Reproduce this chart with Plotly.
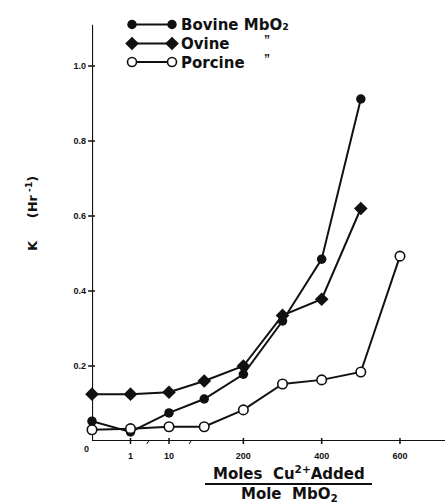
import numpy as np
import plotly.graph_objects as go

# Cu2+ added (moles per mole MbO2) and first-order rate constants K (hr^-1)
cu_added = [0, 1, 10, 100, 200, 300, 400, 500]
k_bovine = [0.053, 0.024, 0.075, 0.112, 0.178, 0.320, 0.485, 0.912]
k_ovine = [0.125, 0.125, 0.130, 0.160, 0.200, 0.335, 0.378, 0.620]

cu_added_porcine = [0, 1, 10, 100, 200, 300, 400, 500, 600]
k_porcine = [0.030, 0.033, 0.038, 0.038, 0.083, 0.152, 0.163, 0.184, 0.493]

x_tick_values = [1, 10, 200, 400, 600]
x_tick_labels = ["1", "10", "200", "400", "600"]
y_tick_values = [0.2, 0.4, 0.6, 0.8, 1.0]
y_tick_labels = ["0.2", "0.4", "0.6", "0.8", "1.0"]

key_labels = ["Bovine MbO\u2082", "Ovine", "Porcine"]


def axis_pos(d):
    """Broken x scale: 0, 1, 10 equally spaced, then linear above 10."""
    d = float(d)
    if d <= 1:
        return d
    if d <= 10:
        return 1 + np.log10(d)
    return 2 + (d - 10) / 98.33


FONT = "Liberation Sans"
TITLE_FONT = "DejaVu Sans"
BLACK = "#111111"

W, H = 445, 504
L, B = 92, 63
PW, PH = W - L, H - B          # plot area in pixels (top margin 0)


def px_to_paper(px, py):
    return (px - L) / PW, (H - B - py) / PH


fig = go.Figure()

line_style = dict(color=BLACK, width=2)
fig.add_trace(go.Scatter(
    x=[axis_pos(d) for d in cu_added], y=k_bovine, mode="lines+markers",
    line=line_style, marker=dict(symbol="circle", size=9.5, color=BLACK),
    cliponaxis=False, showlegend=False))
fig.add_trace(go.Scatter(
    x=[axis_pos(d) for d in cu_added], y=k_ovine, mode="lines+markers",
    line=line_style, marker=dict(symbol="diamond", size=10.5, color=BLACK),
    cliponaxis=False, showlegend=False))
fig.add_trace(go.Scatter(
    x=[axis_pos(d) for d in cu_added_porcine], y=k_porcine, mode="lines+markers",
    line=line_style,
    marker=dict(symbol="circle", size=9.5, color="white",
                line=dict(color=BLACK, width=1.6)),
    cliponaxis=False, showlegend=False))

# Key: marker - line - marker, on a pixel-scaled overlay axis
key_rows = [24.5, 43.5, 62]
key_symbols = [
    dict(symbol="circle", size=9.5, color=BLACK),
    dict(symbol="diamond", size=10.5, color=BLACK),
    dict(symbol="circle", size=9, color="white", line=dict(color=BLACK, width=1.6)),
]
for yk, mk in zip(key_rows, key_symbols):
    fig.add_trace(go.Scatter(
        x=[132, 172], y=[yk, yk], mode="lines+markers", xaxis="x3", yaxis="y3",
        line=dict(color=BLACK, width=1.8), marker=mk,
        cliponaxis=False, showlegend=False, hoverinfo="skip"))

for yk, txt in zip(key_rows, key_labels):
    fig.add_annotation(x=179, y=yk + 0.5, xref="x3", yref="y3", text=f"<b>{txt}</b>",
                       showarrow=False, xanchor="left", yanchor="middle",
                       font=dict(family=TITLE_FONT, size=15, color=BLACK))
# ditto marks, sitting at cap height of the row text
for yk in key_rows[1:]:
    fig.add_annotation(x=267, y=yk - 3.5, xref="x3", yref="y3", text="<b>\u201D</b>",
                       showarrow=False, xanchor="center", yanchor="middle",
                       font=dict(family=FONT, size=12, color=BLACK))

# Origin label
fig.add_annotation(x=0, y=0, xref="x", yref="y", text="<b>0</b>", showarrow=False,
                   xanchor="right", yanchor="top", xshift=-1, yshift=-1,
                   font=dict(family=FONT, size=9, color=BLACK))

# Axis titles (paper coordinates)
tx, ty = px_to_paper(32, 214)
fig.add_annotation(x=tx, y=ty, xref="paper", yref="paper",
                   text="<b>K     (Hr<sup> -1</sup>)</b>", textangle=-90,
                   xanchor="center", yanchor="middle",
                   showarrow=False, font=dict(family=TITLE_FONT, size=13, color=BLACK))
tx, ty = px_to_paper(289, 473)
fig.add_annotation(x=tx, y=ty, xref="paper", yref="paper",
                   text="<b>Moles  Cu<sup>2+</sup>Added</b>", showarrow=False,
                   xanchor="center", yanchor="middle",
                   font=dict(family=TITLE_FONT, size=15, color=BLACK))
tx, ty = px_to_paper(289, 495)
fig.add_annotation(x=tx, y=ty, xref="paper", yref="paper",
                   text="<b>Mole  MbO<sub>2</sub></b>", showarrow=False,
                   xanchor="center", yanchor="middle",
                   font=dict(family=TITLE_FONT, size=15, color=BLACK))
ux0, uy = px_to_paper(205, 484)
ux1, _ = px_to_paper(372, 484)
fig.add_shape(type="line", x0=ux0, x1=ux1, y0=uy, y1=uy, xref="paper", yref="paper",
              line=dict(color=BLACK, width=2))

x_range = [0, 9.17]
y_top_axis = 1.11
y_range = [0, PH / 375.0]

# Axis lines
fig.add_shape(type="line", x0=0, x1=0, y0=0, y1=y_top_axis, xref="x", yref="y",
              line=dict(color=BLACK, width=2.2), layer="below")
fig.add_shape(type="line", x0=0, x1=1, y0=0, y1=0, xref="paper", yref="y",
              line=dict(color=BLACK, width=2.2), layer="below")

# Tick marks crossing the axes
tick_half_x = 3.0 / PW
tick_half_y = 3.0 / PH
for yv in y_tick_values:
    fig.add_shape(type="line", x0=-tick_half_x * 1.3, x1=tick_half_x, y0=yv, y1=yv,
                  xref="paper", yref="y", line=dict(color=BLACK, width=1.5))
for xv in x_tick_values:
    p = axis_pos(xv)
    fig.add_shape(type="line", x0=p, x1=p, y0=-tick_half_y, y1=tick_half_y,
                  xref="x", yref="paper", line=dict(color=BLACK, width=1.5))

# small slanted break marks on the x axis
for p in [1.45, 2.55]:
    fig.add_shape(type="line", x0=p - 0.03, x1=p + 0.03, y0=-tick_half_y, y1=0.3 / PH,
                  xref="x", yref="paper", line=dict(color=BLACK, width=1))

tick_font = dict(family=FONT, size=9, color=BLACK)

fig.update_layout(
    width=W, height=H,
    margin=dict(l=L, r=0, t=0, b=B),
    paper_bgcolor="white", plot_bgcolor="white",
    xaxis=dict(range=x_range, tickmode="array",
               tickvals=[axis_pos(v) for v in x_tick_values],
               ticktext=[f"<b>{t}</b>" for t in x_tick_labels],
               ticks="", showline=False, showgrid=False, zeroline=False,
               tickfont=tick_font, ticklabelstandoff=8),
    yaxis=dict(range=y_range, tickmode="array", tickvals=y_tick_values,
               ticktext=[f"<b>{t}</b>" for t in y_tick_labels],
               ticks="", showline=False, showgrid=False, zeroline=False,
               tickfont=tick_font, ticklabelstandoff=5),
    xaxis3=dict(range=[L, W], overlaying="x", visible=False, fixedrange=True),
    yaxis3=dict(range=[H - B, 0], overlaying="y", visible=False, fixedrange=True),
)

fig.write_html("out.html")
